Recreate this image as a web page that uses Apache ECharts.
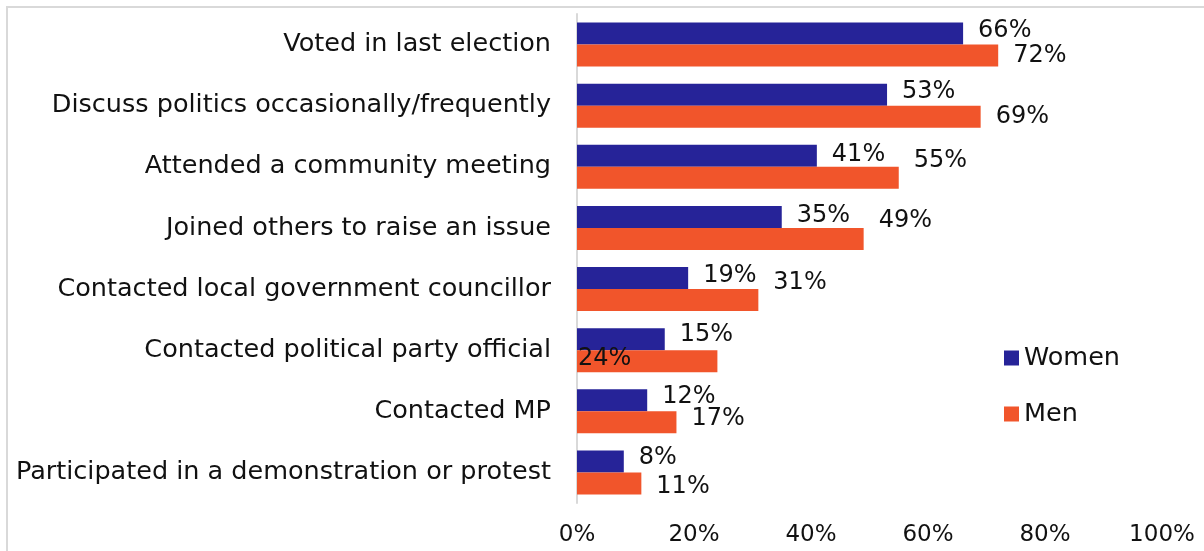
<!DOCTYPE html>
<html>
<head>
<meta charset="utf-8">
<script src="https://cdn.jsdelivr.net/npm/echarts@6/dist/echarts.min.js"></script>
<style>
  html, body { margin: 0; padding: 0; background: #fff; }
  #chart { width: 1204px; height: 551px; }
</style>
</head>
<body>
<div id="chart"></div>
<script>
// Political participation by gender (% of respondents)
const categories = [
  'Voted in last election',
  'Discuss politics occasionally/frequently',
  'Attended a community meeting',
  'Joined others to raise an issue',
  'Contacted local government councillor',
  'Contacted political party official',
  'Contacted MP',
  'Participated in a demonstration or protest'
];
const women = [66, 53, 41, 35, 19, 15, 12, 8];
const men = [72, 69, 55, 49, 31, 24, 17, 11];
const xTicks = [0, 20, 40, 60, 80, 100];

// Vertical nudges for the value labels, per bar
const womenLabelShift = [-3, -3, -1, -1, -2, -4, -4, -4];
const menLabelShift = [0, 0, -17, -18, -17, -2, -4, 3];

const FONT = '"DejaVu Sans", Verdana, sans-serif';
const WOMEN_COLOR = '#262398';
const MEN_COLOR = '#F1552B';

function buildData(values, shifts, special) {
  return values.map((v, i) => {
    const item = { value: v, label: { offset: [0, shifts[i]] } };
    if (special && special[i]) Object.assign(item.label, special[i]);
    return item;
  });
}

const labelBase = {
  show: true,
  position: 'right',
  distance: 15,
  color: '#111',
  fontFamily: FONT,
  fontSize: 24,
  formatter: p => p.value + '%'
};

const chart = echarts.init(document.getElementById('chart'), null, { renderer: 'canvas' });
chart.setOption({
  animation: false,
  backgroundColor: '#fff',
  textStyle: { fontFamily: FONT },
  graphic: [{
    type: 'rect',
    shape: { x: 7, y: 7, width: 1220, height: 570 },
    style: { fill: 'none', stroke: '#d9d9d9', lineWidth: 2 },
    silent: true
  }],
  grid: { left: 577, right: 42, top: 14, bottom: 48, containLabel: false },
  legend: {
    orient: 'vertical',
    left: 1004,
    top: 345,
    padding: 0,
    itemWidth: 15,
    itemHeight: 15,
    itemGap: 30,
    icon: 'rect',
    textStyle: { fontFamily: FONT, fontSize: 25.5, color: '#111', lineHeight: 26 },
    data: ['Women', 'Men']
  },
  xAxis: {
    type: 'value',
    min: xTicks[0],
    max: xTicks[xTicks.length - 1],
    interval: xTicks[1] - xTicks[0],
    axisLine: { show: false },
    axisTick: { show: false },
    splitLine: { show: false },
    axisLabel: {
      margin: 21,
      color: '#111',
      fontFamily: FONT,
      fontSize: 23,
      formatter: '{value}%'
    }
  },
  yAxis: {
    type: 'category',
    inverse: true,
    data: categories,
    axisLine: { show: true, lineStyle: { color: '#d9d9d9', width: 2 } },
    axisTick: { show: false },
    axisLabel: {
      margin: 26,
      color: '#111',
      fontFamily: FONT,
      fontSize: 25.5
    }
  },
  series: [
    {
      name: 'Women',
      type: 'bar',
      barWidth: 22,
      barGap: '0%',
      itemStyle: { color: WOMEN_COLOR },
      label: labelBase,
      data: buildData(women, womenLabelShift)
    },
    {
      name: 'Men',
      type: 'bar',
      barWidth: 22,
      barGap: '0%',
      itemStyle: { color: MEN_COLOR },
      label: labelBase,
      data: buildData(men, menLabelShift, { 5: { position: 'insideLeft', distance: 1 } })
    }
  ]
});
</script>
</body>
</html>
